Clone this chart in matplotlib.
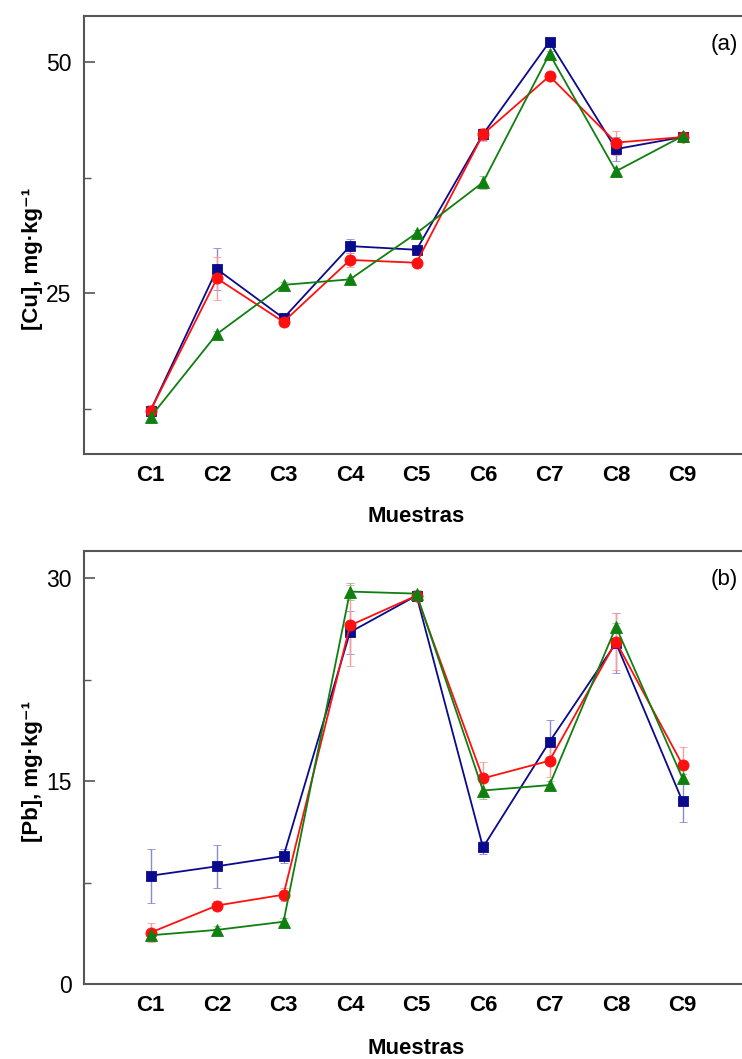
import matplotlib
matplotlib.use("Agg")
import matplotlib.pyplot as plt
from matplotlib.ticker import MultipleLocator

plt.rcParams['font.family'] = ['Liberation Sans', 'DejaVu Sans']

samples = ['C1', 'C2', 'C3', 'C4', 'C5', 'C6', 'C7', 'C8', 'C9']

# Copper, mg/kg
cu_blue = [12.3, 27.6, 22.3, 30.1, 29.7, 42.2, 52.2, 40.6, 41.9]
cu_red = [12.3, 26.6, 21.9, 28.6, 28.3, 42.2, 48.5, 41.3, 41.9]
cu_green = [11.6, 20.6, 25.9, 26.5, 31.5, 37.0, 50.9, 38.2, 42.0]
cu_blue_err = [0.5, 2.3, 0.3, 0.8, 0.4, 0.6, 0.4, 1.3, 0.4]
cu_red_err = [0.6, 2.3, 0.3, 0.8, 0.3, 0.7, 0.4, 1.3, 0.5]
cu_green_err = [0.3, 0.3, 0.3, 0.3, 0.3, 0.7, 0.3, 0.3, 0.4]

# Lead, mg/kg
pb_blue = [8.0, 8.7, 9.45, 26.0, 28.7, 10.1, 17.9, 25.2, 13.5]
pb_red = [3.8, 5.8, 6.6, 26.5, 28.7, 15.2, 16.5, 25.3, 16.2]
pb_green = [3.6, 4.0, 4.6, 29.0, 28.85, 14.3, 14.7, 26.4, 15.2]
pb_blue_err = [2.0, 1.6, 0.5, 1.6, 0.3, 0.5, 1.6, 2.2, 1.5]
pb_red_err = [0.7, 0.3, 0.5, 3.0, 0.3, 1.2, 1.2, 2.1, 1.3]
pb_green_err = [0.3, 0.3, 0.3, 0.6, 0.3, 0.6, 0.3, 0.3, 0.3]

W, H = 742, 1059
fig = plt.figure(figsize=(W / 100, H / 100), dpi=100)

def axes_px(left, top, right, bottom):
    return fig.add_axes([left / W, 1 - bottom / H, (right - left) / W, (bottom - top) / H])

ax_cu = axes_px(84, 16, 749, 454)
ax_pb = axes_px(84, 551, 749, 984)

styles = [
    ('#0a0a8c', '#8a8ad0', 's', 7),
    ('#ff1010', '#ff9a9a', 'o', 8),
    ('#0f7f0f', '#8cc48c', '^', 8),
]

def draw(ax, series, errs):
    x = list(range(1, len(samples) + 1))
    for (col, ecol, mk, ms), y, e in zip(styles, series, errs):
        ax.errorbar(x, y, yerr=e, color=col, ecolor=ecol, elinewidth=1.0,
                    capsize=3, capthick=1.0, marker=mk, markersize=ms,
                    markeredgewidth=0.6, markeredgecolor=col, lw=1.3, zorder=3)
    ax.set_xlim(0, 10)
    ax.set_xticks(x)
    ax.set_xticklabels(samples, fontsize=16, fontweight='bold')
    ax.tick_params(axis='x', length=0, pad=8)
    ax.tick_params(axis='y', which='major', direction='in', length=8, width=1.2,
                   color='#555555', labelsize=16.5, pad=9)
    ax.tick_params(axis='y', which='minor', direction='in', length=5, width=1.0,
                   color='#555555')
    for s in ax.spines.values():
        s.set_color('#555555')
        s.set_linewidth(1.5)

draw(ax_cu, [cu_blue, cu_red, cu_green], [cu_blue_err, cu_red_err, cu_green_err])
ax_cu.set_ylim(7.6, 55)
ax_cu.yaxis.set_major_locator(MultipleLocator(25))
ax_cu.yaxis.set_minor_locator(MultipleLocator(12.5))
ax_cu.set_ylabel('[Cu], mg·kg⁻¹', fontsize=16, fontweight='bold')
ax_cu.yaxis.set_label_coords(-0.062, 0.445)
ax_cu.set_xlabel('Muestras', fontsize=16, fontweight='bold')
ax_cu.xaxis.set_label_coords(0.5, -0.142)
ax_cu.xaxis.label.set_va('center')
ax_cu.text(0.963, 0.935, '(a)', transform=ax_cu.transAxes, fontsize=16,
           ha='center', va='center')

draw(ax_pb, [pb_blue, pb_red, pb_green], [pb_blue_err, pb_red_err, pb_green_err])
ax_pb.set_ylim(0, 32)
ax_pb.yaxis.set_major_locator(MultipleLocator(15))
ax_pb.yaxis.set_minor_locator(MultipleLocator(7.5))
ax_pb.set_ylabel('[Pb], mg·kg⁻¹', fontsize=16, fontweight='bold')
ax_pb.yaxis.set_label_coords(-0.062, 0.49)
ax_pb.set_xlabel('Muestras', fontsize=16, fontweight='bold')
ax_pb.xaxis.set_label_coords(0.5, -0.150)
ax_pb.xaxis.label.set_va('center')
ax_pb.text(0.963, 0.935, '(b)', transform=ax_pb.transAxes, fontsize=16,
           ha='center', va='center')

fig.savefig('out.png', dpi=100)
